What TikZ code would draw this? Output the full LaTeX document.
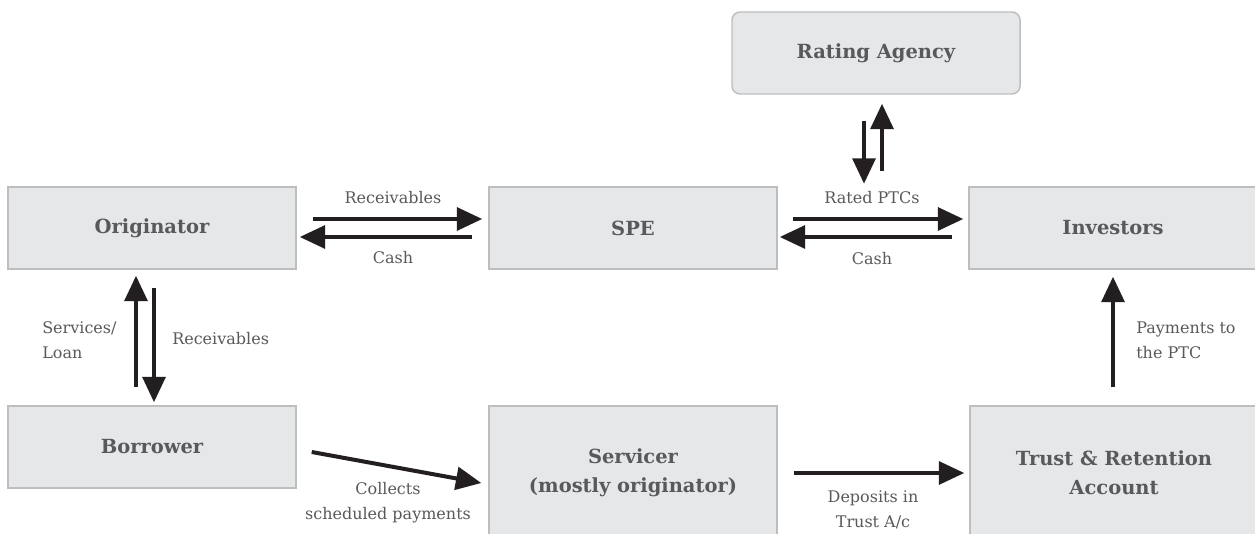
\documentclass[tikz,border=0pt]{standalone}
\usepackage{fontspec}
\setmainfont{DejaVu Serif}
\usetikzlibrary{arrows.meta,calc,positioning}
\definecolor{boxFill}{HTML}{E6E7E8}
\definecolor{boxLine}{HTML}{BCBEC0}
\definecolor{textGrey}{HTML}{58595B}
\definecolor{arrowInk}{HTML}{231F20}

\begin{document}
\begin{tikzpicture}[x=0.75pt,y=-0.75pt]

    \tikzstyle{commonNode}=[draw=boxLine, line width=1.1pt, fill=boxFill, text=textGrey, font=\bfseries\fontsize{14.6}{21.75}\selectfont, align=center, inner sep=0pt]
    \tikzstyle{party}=[commonNode, rectangle, minimum width=216pt, minimum height=61.5pt]
    \tikzstyle{agency}=[party, rounded corners=6pt]
    \tikzstyle{account}=[party, minimum height=100.5pt]
    \tikzstyle{flow}=[line width=3pt, draw=arrowInk, -{Triangle[length=19pt,width=17pt]}]
    \tikzstyle{flowLabel}=[text=textGrey, font=\fontsize{12}{18.75}\selectfont, align=center, inner sep=0pt]

    % Page
    \path[fill=white] (0,0) rectangle (1255,534);
    \useasboundingbox (0,0) rectangle (1255,534);

    % Parties
    \node at (876,53)   [agency]  (RA)   {Rating Agency};
    \node at (152,228)  [party]   (OR)   {Originator};
    \node at (633,228)  [party]   (SPE)  {SPE};
    \node at (1113,228) [party]   (INV)  {Investors};
    \node at (152,447)  [party]   (BOR)  {Borrower};
    \node at (633,473)  [account] (SRV)  {Servicer\\(mostly originator)};
    \node at (1114,473) [account] (TRA)  {Trust \& Retention\\Account};

    % Originator <-> SPE
    \draw [flow] ($(OR.east)+(16,-9)$) -- ($(SPE.west)+(-6,-9)$);
    \draw [flow] ($(SPE.west)+(-16,9)$) -- ($(OR.east)+(3,9)$);
    \node at (393,198) [flowLabel] (recvA) {Receivables};
    \node at (393,258) [flowLabel] (cashA) {Cash};

    % SPE <-> Investors
    \draw [flow] ($(SPE.east)+(15,-9)$) -- ($(INV.west)+(-5,-9)$);
    \draw [flow] ($(INV.west)+(-16,9)$) -- ($(SPE.east)+(2,9)$);
    \node at (872,198) [flowLabel] (ptc)   {Rated PTCs};
    \node at (872,259) [flowLabel] (cashB) {Cash};

    % Rating Agency
    \draw [flow] ($(RA.south)+(-12,26)$) -- ($(RA.south)+(-12,89)$);
    \draw [flow] ($(RA.south)+(6,76)$) -- ($(RA.south)+(6,9)$);

    % Borrower <-> Originator
    \draw [flow] ($(BOR.north)+(-16,-18)$) -- ($(OR.south)+(-16,6)$);
    \draw [flow] ($(OR.south)+(2,18)$) -- ($(BOR.north)+(2,-3)$);
    \node at (42,340)  [flowLabel, anchor=west, align=left] (loan)  {Services/\\Loan};
    \node at (172,339) [flowLabel, anchor=west] (recvB) {Receivables};

    % Collections
    \draw [flow] ($(BOR.east)+(15,5)$) -- ($(SRV.west)+(-7,10)$);
    \node at (388,503) [flowLabel] (coll) {Collects\\scheduled payments};
    \draw [flow] ($(SRV.east)+(16,0)$) -- ($(TRA.west)+(-5,0)$);
    \node at (873,510) [flowLabel] (dep)  {Deposits in\\Trust A/c};
    \draw [flow] ($(TRA.north)+(-1,-18)$) -- ($(INV.south)+(0,7)$);
    \node at (1136,340) [flowLabel, anchor=west, align=left] (pay) {Payments to\\the PTC};

\end{tikzpicture}
\end{document}
